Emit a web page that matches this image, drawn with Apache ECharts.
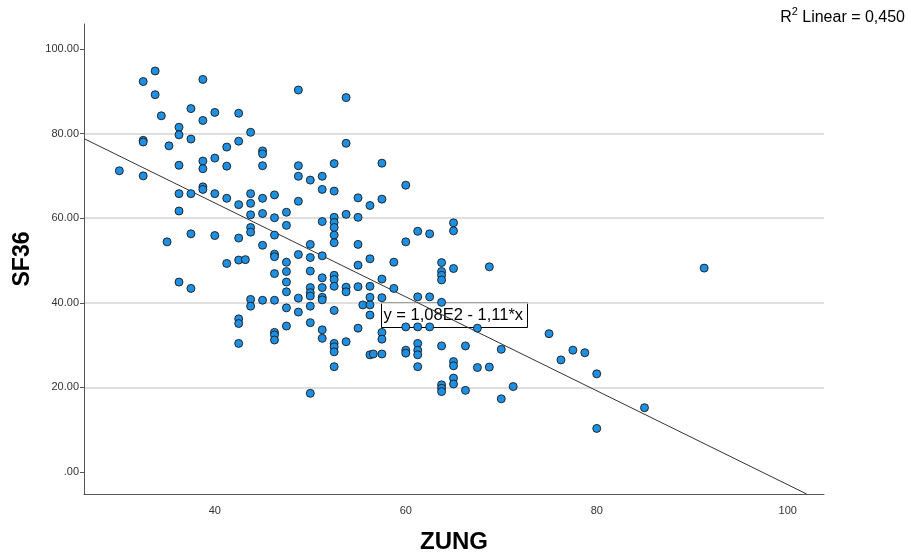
<!DOCTYPE html>
<html><head><meta charset="utf-8">
<script src="https://cdn.jsdelivr.net/npm/echarts@6/dist/echarts.min.js"></script>
<style>html,body{margin:0;padding:0;background:#fff}#c{width:908px;height:554px}</style>
</head><body><div id="c"></div>
<script>
// ZUNG (x) and SF36 (y) values
const zung = [
  30,
  32.5, 32.5, 32.5, 32.5,
  33.75, 33.75,
  34.4,
  35, 35.2,
  36.25, 36.25, 36.25, 36.25, 36.25, 36.25,
  37.5, 37.5, 37.5, 37.5, 37.5,
  38.75, 38.75, 38.75, 38.75, 38.75, 38.75,
  40, 40, 40, 40,
  41.25, 41.25, 41.25, 41.25,
  42.5, 42.5, 42.5, 42.5, 42.5, 42.5, 42.5, 42.5,
  43.2,
  43.75, 43.75, 43.75, 43.75, 43.75, 43.75, 43.75, 43.75,
  45, 45, 45, 45, 45, 45, 45,
  46.25, 46.25, 46.25, 46.25, 46.25, 46.25, 46.25, 46.25, 46.25, 46.25,
  47.5, 47.5, 47.5, 47.5, 47.5, 47.5, 47.5, 47.5,
  48.75, 48.75, 48.75, 48.75, 48.75, 48.75, 48.75,
  50, 50, 50, 50, 50, 50, 50, 50, 50, 50,
  51.25, 51.25, 51.25, 51.25, 51.25, 51.25, 51.25, 51.25, 51.25, 51.25,
  52.5, 52.5, 52.5, 52.5, 52.5, 52.5, 52.5, 52.5, 52.5, 52.5, 52.5, 52.5, 52.5, 52.5, 52.5,
  53.75, 53.75, 53.75, 53.75, 53.75, 53.75,
  55, 55, 55, 55, 55, 55,
  55.5,
  56.25, 56.25, 56.25, 56.25, 56.25, 56.25, 56.25,
  56.6,
  57.5, 57.5, 57.5, 57.5, 57.5, 57.5, 57.5,
  58.75, 58.75,
  60, 60, 60, 60, 60,
  61.25, 61.25, 61.25, 61.25, 61.25, 61.25, 61.25,
  62.5, 62.5, 62.5,
  63.75, 63.75, 63.75, 63.75, 63.75, 63.75, 63.75, 63.75, 63.75,
  65, 65, 65, 65, 65, 65, 65,
  66.25, 66.25,
  67.5, 67.5,
  68.75, 68.75,
  70, 70,
  71.25,
  75, 76.25, 77.5, 78.75,
  80, 80,
  85,
  91.25
];
const sf36 = [
  71.2,
  92.3, 78.4, 78.0, 70.0,
  94.8, 89.2,
  84.2,
  54.4, 77.1,
  81.5, 79.7, 72.5, 65.8, 61.7, 44.9,
  85.9, 78.7, 65.8, 56.3, 43.4,
  92.8, 83.1, 73.5, 71.7, 67.4, 66.8,
  85.0, 74.2, 65.8, 55.9,
  76.8, 72.3, 64.7, 49.3,
  84.8, 78.2, 63.2, 55.3, 50.1, 36.2, 35.1, 30.4,
  50.2,
  80.3, 65.8, 63.5, 60.8, 57.8, 56.7, 40.8, 39.2,
  75.9, 75.2, 72.4, 64.7, 61.1, 53.6, 40.6,
  65.5, 60.1, 56.0, 51.5, 50.9, 46.9, 40.6, 33.0, 32.4, 31.2,
  61.4, 58.3, 49.6, 47.4, 44.9, 42.6, 38.8, 34.5,
  90.3, 72.4, 69.9, 64.0, 51.4, 41.1, 37.8,
  69.0, 53.8, 50.7, 47.5, 43.6, 42.4, 41.6, 39.2, 35.3, 18.6,
  69.9, 66.8, 59.2, 51.1, 45.9, 43.6, 41.3, 40.7, 33.6, 31.6,
  72.9, 66.4, 60.2, 59.0, 57.8, 56.0, 54.2, 46.5, 45.5, 43.9, 38.2, 30.4, 29.6, 28.4, 24.9,
  88.5, 77.7, 60.9, 43.7, 42.6, 30.8,
  64.8, 60.2, 53.8, 48.9, 43.8, 34.0,
  39.5,
  63.0, 50.4, 43.9, 41.3, 39.5, 37.1, 27.7,
  27.9,
  73.0, 64.5, 45.6, 41.2, 33.0, 31.4, 27.9,
  49.6, 43.4,
  67.8, 54.4, 34.3, 28.8, 28.1,
  56.9, 41.4, 34.3, 30.4, 28.8, 27.7, 24.9,
  56.3, 41.4, 34.3,
  49.5, 47.4, 46.5, 45.4, 40.1, 29.8, 20.6, 19.8, 19.0,
  58.9, 57.0, 48.1, 26.1, 25.1, 22.2, 20.8,
  29.8, 19.3,
  34.0, 24.7,
  48.5, 24.8,
  29.0, 17.3,
  20.2,
  32.7, 26.5, 28.8, 28.2,
  23.2, 10.3,
  15.2,
  48.2
];
const xTicks = [40, 60, 80, 100];
const yTicks = [0, 20, 40, 60, 80, 100];
const fitIntercept = 108;   // 1,08E2
const fitSlope = -1.11;
const fitLabel = 'y = 1,08E2 - 1,11*x';
const r2Text = '0,450';

const xMin = 26.3, xMax = 103.8, yMin = -5.2, yMax = 105.9;

const points = zung.map((x, i) => [x, sf36[i]]);
const xEnd = (yMin - fitIntercept) / fitSlope;
const fitLine = [[xMin, fitIntercept + fitSlope * xMin], [xEnd, yMin]];

const chart = echarts.init(document.getElementById('c'), null, {renderer: 'canvas'});
const FONT = '"Liberation Sans", Arial, sans-serif';
chart.setOption({
  animation: false,
  backgroundColor: '#fff',
  grid: {left: 84, right: 84, top: 24, bottom: 60, containLabel: false, outerBoundsMode: 'none'},
  xAxis: {
    type: 'value', min: xMin, max: xMax,
    axisLine: {show: true, onZero: false, lineStyle: {color: '#555', width: 1}},
    axisTick: {show: false},
    splitLine: {show: false},
    axisLabel: {
      color: '#333', fontFamily: FONT, fontSize: 11, margin: 11,
      customValues: xTicks,
      formatter: v => xTicks.includes(v) ? String(v) : ''
    },
    name: 'ZUNG', nameLocation: 'middle', nameGap: 36,
    nameTextStyle: {fontFamily: FONT, fontSize: 24, fontWeight: 'bold', color: '#000'}
  },
  yAxis: {
    type: 'value', min: yMin, max: yMax,
    axisLine: {show: true, onZero: false, lineStyle: {color: '#555', width: 1}},
    axisTick: {show: true, length: 4, customValues: yTicks, lineStyle: {color: '#555'}},
    splitLine: {show: true, showMinLine: false, showMaxLine: false, lineStyle: {color: '#d4d4d4', width: 1.5}},
    axisLabel: {
      color: '#333', fontFamily: FONT, fontSize: 11, margin: 5,
      customValues: yTicks,
      formatter: v => yTicks.includes(v) ? (v === 0 ? '.00' : v.toFixed(2)) : ''
    },
    name: 'SF36', nameLocation: 'middle', nameGap: 50, nameRotate: 90,
    nameTextStyle: {fontFamily: FONT, fontSize: 23, fontWeight: 'bold', color: '#000'}
  },
  series: [
    {
      type: 'line', data: fitLine, symbol: 'none', silent: true,
      lineStyle: {color: '#333', width: 1}, z: 1
    },
    {
      type: 'scatter', data: points, symbol: 'circle', symbolSize: 8,
      itemStyle: {color: '#1e8fe1', borderColor: '#1a1a1a', borderWidth: 0.9, opacity: 1}, z: 2
    }
  ],
  graphic: [
    {
      type: 'group', left: 381, top: 302, z: 10,
      children: [
        {type: 'rect', shape: {x: 0, y: 0, width: 146, height: 25}, style: {fill: '#fff', stroke: '#000', lineWidth: 1}},
        {type: 'text', x: 2, y: 13, style: {text: fitLabel, font: '16.5px ' + FONT, fill: '#000', verticalAlign: 'middle'}}
      ]
    },
    {
      type: 'text', right: 3, top: 6, z: 10,
      style: {
        text: '{r|R}{s|2}{r| Linear = ' + r2Text + '}',
        rich: {
          r: {fontFamily: FONT, fontSize: 16, fill: '#000', verticalAlign: 'bottom', lineHeight: 20},
          s: {fontFamily: FONT, fontSize: 11, fill: '#000', verticalAlign: 'top', lineHeight: 20, padding: [0, 0, 7, 0]}
        }
      }
    }
  ]
});
</script></body></html>
